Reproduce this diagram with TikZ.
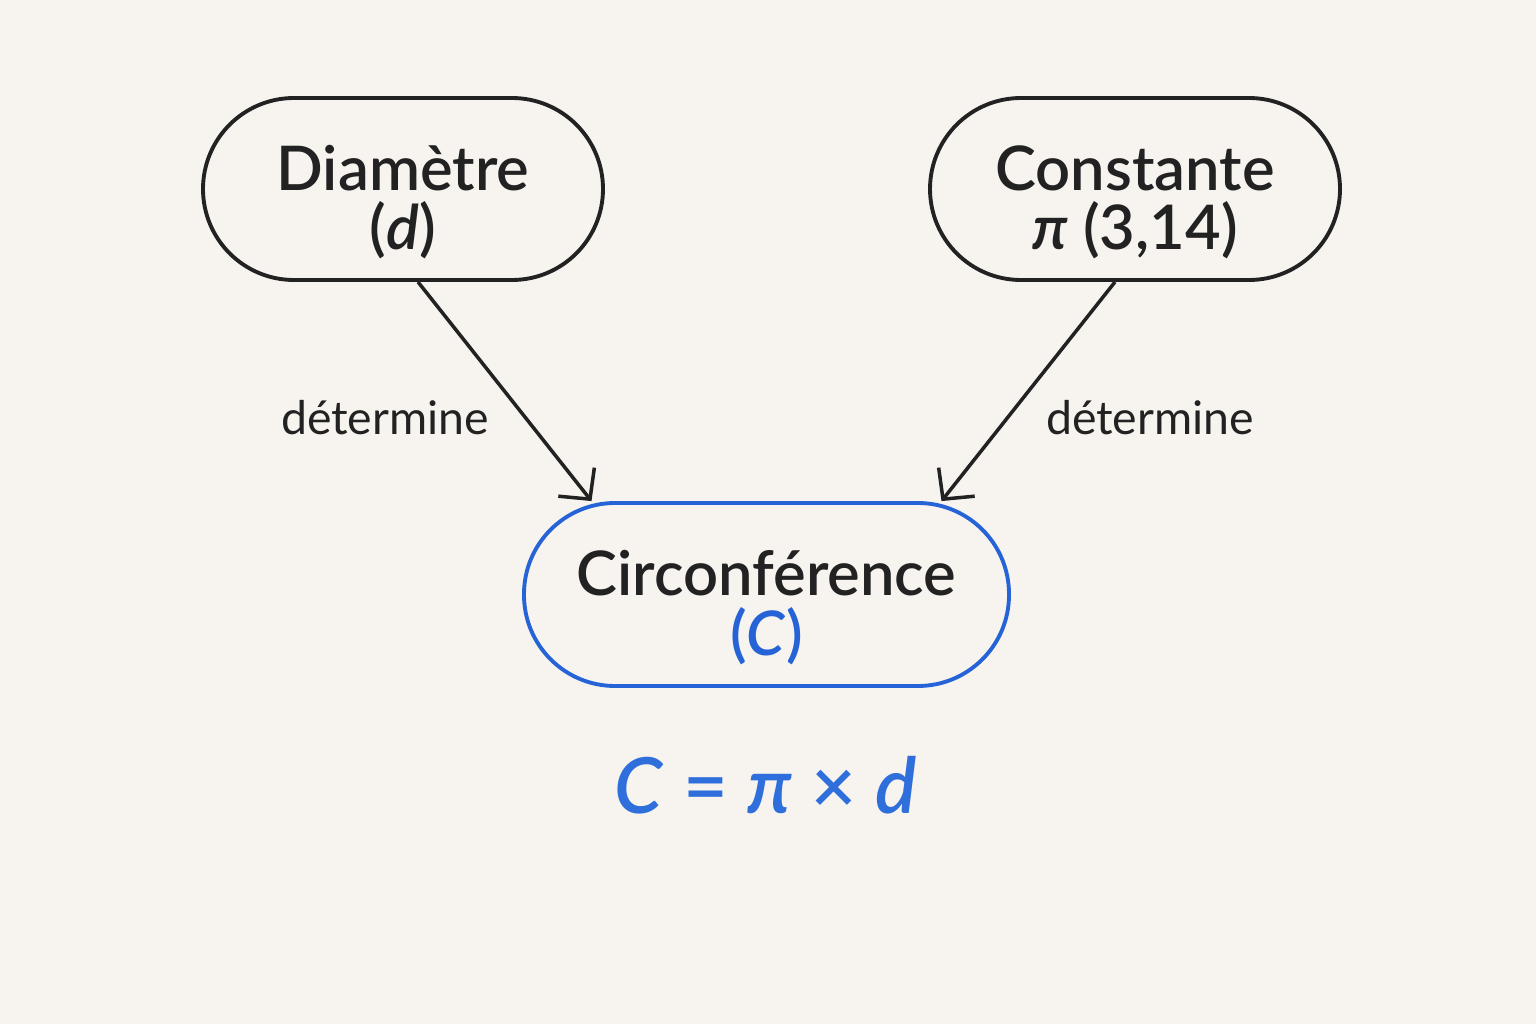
\documentclass[tikz,border=0pt]{standalone}
\usepackage{fontspec}
\setmainfont{Lato}[BoldFont={Lato Semibold},BoldItalicFont={Lato Semibold Italic}]
\usetikzlibrary{arrows.meta,positioning,calc}
\definecolor{Paper}{HTML}{F7F4F0}
\definecolor{Ink}{HTML}{222222}
\definecolor{Azure}{HTML}{2563D6}
\definecolor{Formula}{HTML}{2F6FDC}

\begin{document}
\begin{tikzpicture}[
    pill/.style={draw=Ink,line width=1.1pt,rounded corners=0.91cm,minimum height=1.82cm,
      align=center,inner sep=0pt,text=Ink,text height=38.6pt,text depth=4pt,
      font=\fontsize{17.5}{17}\selectfont\bfseries},
    link/.style={draw=Ink,line width=1pt,-{Straight Barb[length=2.2mm,width=4.6mm]}},
    verb/.style={text=Ink,font=\fontsize{13.2}{15}\selectfont}]
  \fill[Paper] (0,0) rectangle (15.36,10.24);
  % the two inputs and the result
  \node[pill,minimum width=4cm] (diam) at (4.03,8.35) {Diamètre\\(\textit{d})};
  \node[pill,minimum width=4.1cm] (const) at (11.35,8.35) {Constante\\\textit{π} (3,14)};
  \node[pill,draw=Azure,minimum width=4.85cm,minimum height=1.83cm] (circ) at (7.665,4.295)
    {Circonférence\\\textcolor{Azure}{(\textit{C})}};
  % arrows
  \draw[link] ([xshift=1.5mm]diam.south) -- ([xshift=-17.5mm]circ.north);
  \draw[link] ([xshift=-2mm]const.south) -- ([xshift=17.5mm]circ.north);
  \node[verb] (lblL) at (3.85,6.06) {détermine};
  \node[verb] (lblR) at (11.5,6.06) {détermine};
  \node[text=Formula,font=\fontsize{22}{24}\selectfont\bfseries] (eq) at (7.66,2.39)
    {\textit{C} = \textit{π} × \textit{d}};
\end{tikzpicture}
\end{document}
